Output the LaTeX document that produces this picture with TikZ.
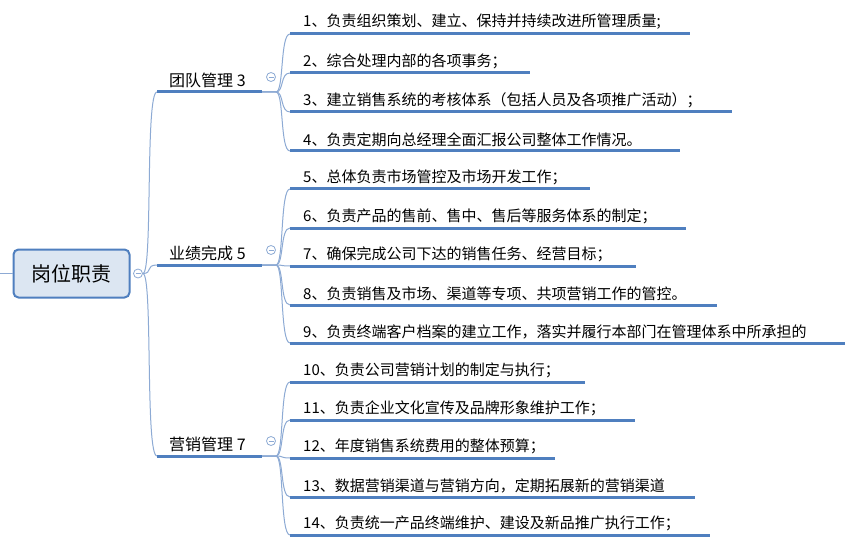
\documentclass[tikz,border=0pt]{standalone}
\usepackage{fontspec}
\setmainfont{Noto Sans CJK SC}
\definecolor{ul}{HTML}{4F7FBF}
\definecolor{cn}{HTML}{8DAAD4}
\definecolor{rootfill}{HTML}{DCE6F2}
\tikzset{
 leaf/.style={anchor=south west,inner sep=1pt,font=\fontsize{15}{16}\selectfont},
 branch/.style={anchor=south west,inner sep=1pt,font=\fontsize{16}{17}\selectfont},
 uline/.style={ul,line width=3pt},
 conn/.style={cn,line width=1pt},
 tog/.style={circle,draw=cn,fill=white,minimum size=9pt,inner sep=0pt,line width=0.8pt},
}
\begin{document}
\begin{tikzpicture}[x=1pt,y=-1pt]
\useasboundingbox (0,0) rectangle (867,556);
\fill[white] (0,0) rectangle (867,556);
% root
\node[draw=ul,fill=rootfill,line width=2pt,rounded corners=5pt,minimum width=116pt,minimum height=48pt,font=\fontsize{20}{21}\selectfont] (root) at (71.5,273.5) {岗位职责};
\coordinate (rl) at (0,273.5);
\draw[conn] (rl) -- (root.west);
\node[tog] (rt) at (138,273.5) {};
\draw[cn,line width=0.8pt] ([xshift=-2.5pt]rt.center) -- ([xshift=2.5pt]rt.center);
% branches
\foreach \n/\t/\y in {b1/团队管理 3/92, b2/业绩完成 5/265, b3/营销管理 7/456}{
  \coordinate (\n s) at (157,\y);
  \coordinate (\n e) at (262,\y);
  \node[branch] (\n) at (168,\y-3) {\t};
  \draw[conn] (rt.east) .. controls (153,273.5) and (145,\y) .. (\n s);
  \draw[uline] (\n s) -- (\n e);
}
\foreach \n/\y in {b1/77, b2/250, b3/441}{
  \node[tog] (\n t) at (271,\y) {};
  \draw[cn,line width=0.8pt] ([xshift=-2.5pt]\n t.center) -- ([xshift=2.5pt]\n t.center);
}
% leaves
\foreach \b/\n/\y/\e/\t in {
 b1/l1/34/690/{1、负责组织策划、建立、保持并持续改进所管理质量;},
 b1/l2/73/530/{2、综合处理内部的各项事务；},
 b1/l3/112/732/{3、建立销售系统的考核体系（包括人员及各项推广活动）；},
 b1/l4/151/680/{4、负责定期向总经理全面汇报公司整体工作情况。},
 b2/l5/189/590/{5、总体负责市场管控及市场开发工作；},
 b2/l6/228/686/{6、负责产品的售前、售中、售后等服务体系的制定；},
 b2/l7/266/636/{7、确保完成公司下达的销售任务、经营目标；},
 b2/l8/305/717/{8、负责销售及市场、渠道等专项、共项营销工作的管控。},
 b2/l9/343/845/{9、负责终端客户档案的建立工作，落实并履行本部门在管理体系中所承担的},
 b3/l10/382/585/{10、负责公司营销计划的制定与执行；},
 b3/l11/420/635/{11、负责企业文化宣传及品牌形象维护工作；},
 b3/l12/458/555/{12、年度销售系统费用的整体预算；},
 b3/l13/497/695/{13、数据营销渠道与营销方向，定期拓展新的营销渠道},
 b3/l14/535/710/{14、负责统一产品终端维护、建设及新品推广执行工作；}}{
  \coordinate (\n s) at (290,\y);
  \coordinate (\n e) at (\e,\y);
  \node[leaf] (\n) at (302,\y-3) {\t};
  \draw[conn] (\b e) -- (276,0|-\b e) .. controls (284,0|-\b e) and (280,\y) .. (\n s);
  \draw[uline] (\n s) -- (\n e);
}
\end{tikzpicture}
\end{document}
